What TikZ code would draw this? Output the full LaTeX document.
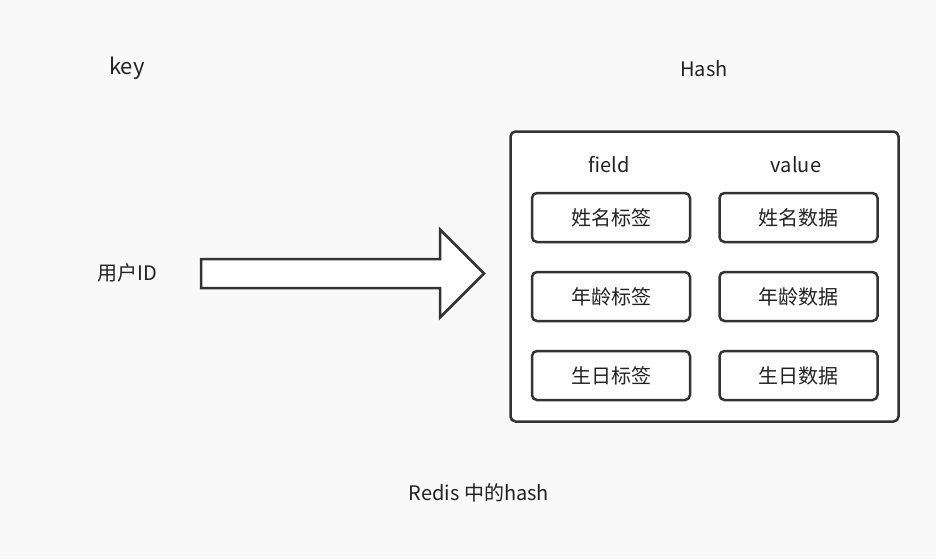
\documentclass[tikz,border=0pt]{standalone}
\usepackage{fontspec}
\setmainfont{Noto Sans CJK SC}
\usepackage{xcolor}
\usepackage{tikz}
\usetikzlibrary{positioning, calc}

\definecolor{ink}{HTML}{333333}
\definecolor{letter}{HTML}{222222}
\definecolor{paper}{HTML}{F9F9F9}

\begin{document}
\begin{tikzpicture}[x=1pt, y=-1pt, font=\fontsize{20}{24}\selectfont, text=letter]
    % Styles
    \tikzstyle{cell} = [rectangle, draw=ink, fill=white, line width=2.5pt, rounded corners=5pt, minimum width=158pt, minimum height=49pt, inner sep=0pt]
    \tikzstyle{frame} = [rectangle, draw=ink, fill=white, line width=2.5pt, rounded corners=5pt, minimum width=388pt, minimum height=290pt, inner sep=0pt]
    \tikzstyle{caption} = [inner sep=0pt, anchor=center]
    \tikzstyle{bigarrow} = [draw=ink, fill=white, line width=2.5pt, miter limit=10]

    % Canvas
    \fill [paper] (0,0) rectangle (936,559);
    \useasboundingbox (0,0) rectangle (936,559);

    % Titles
    \node [caption, font=\fontsize{22}{26}\selectfont] (key) at (127,68) {key};
    \node [caption] (hashtitle) at (704,69) {Hash};
    \node [caption] (userid) at (127,273) {用户ID};
    \node [caption] (note) at (479,493) {Redis 中的hash};

    % Hash box
    \node [frame] (hash) at (704.5,276.5) {};
    \node [caption] (field) at (609,165) {field};
    \node [caption] (value) at (796,165) {value};

    % Fields and values
    \node [cell] (name) at (611,217.5) {姓名标签};
    \node [cell, below=27.5pt of name] (age) {年龄标签};
    \node [cell, below=27.5pt of age] (birth) {生日标签};
    \node [cell, right=27pt of name] (namev) {姓名数据};
    \node [cell, right=27pt of age] (agev) {年龄数据};
    \node [cell, right=27pt of birth] (birthv) {生日数据};

    % Arrow
    \coordinate (tail) at (201,273.5);
    \coordinate (tip) at (484,273.5);
    \draw [bigarrow] ($(tail)+(0,-14.5)$) -- ($(tip)+(-44,-14.5)$) -- ($(tip)+(-44,-44)$)
        -- (tip) -- ($(tip)+(-44,44)$) -- ($(tip)+(-44,14.5)$) -- ($(tail)+(0,14.5)$) -- cycle;
\end{tikzpicture}
\end{document}
